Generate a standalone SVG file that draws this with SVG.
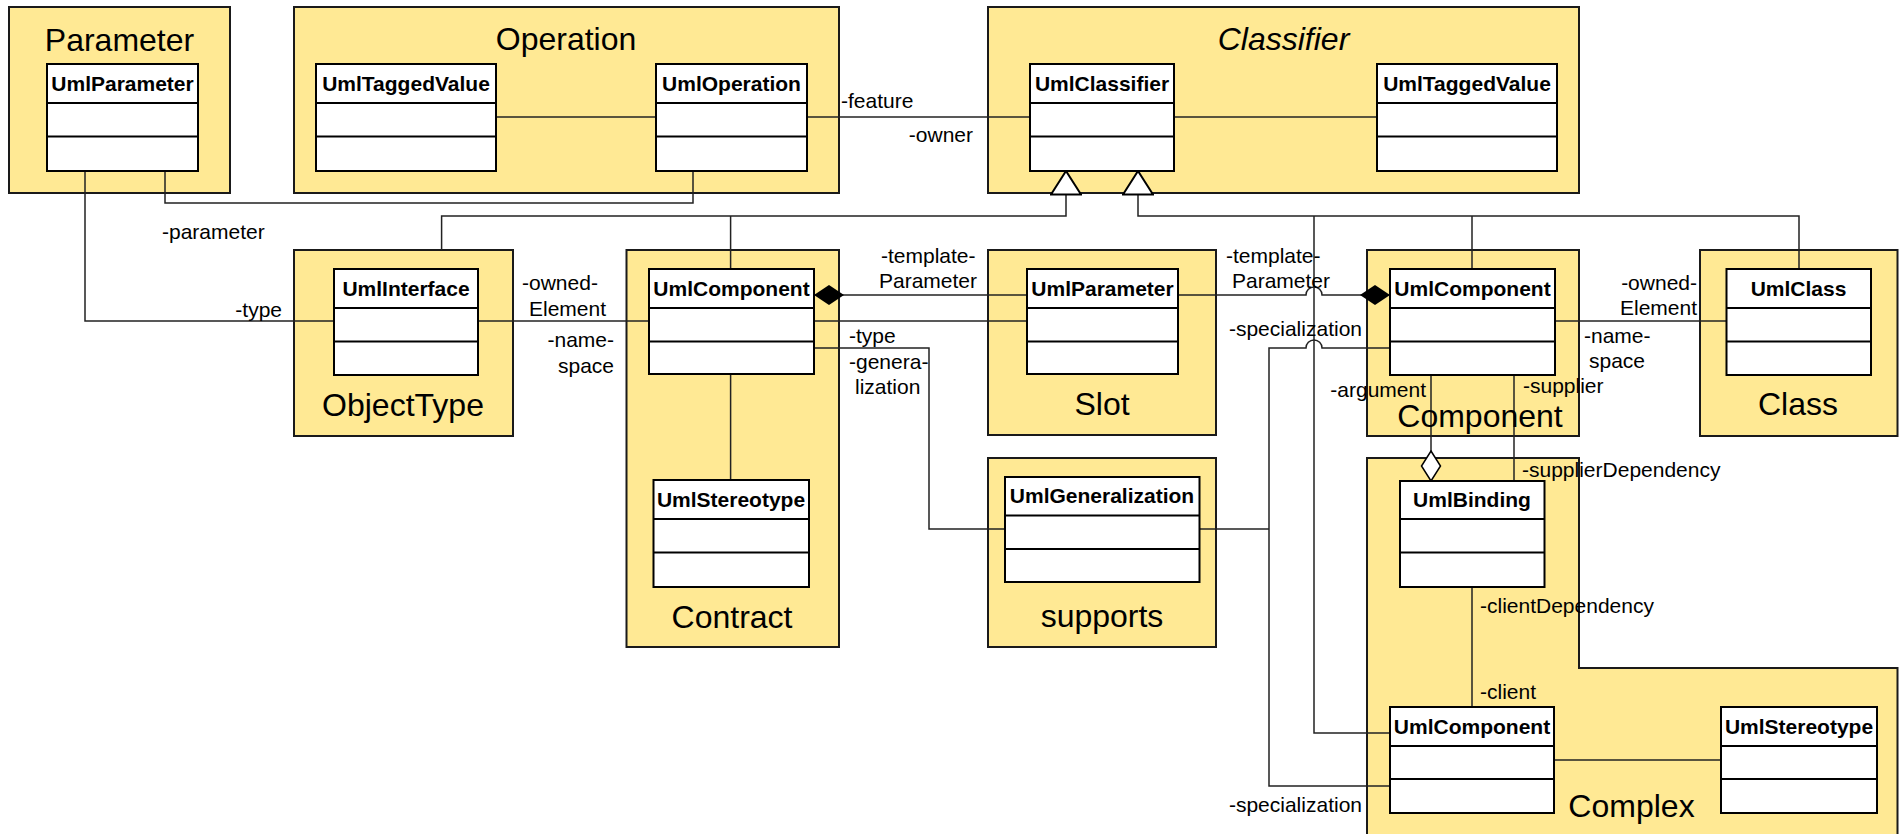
<svg xmlns="http://www.w3.org/2000/svg" width="1899" height="834" viewBox="0 0 1899 834">
<style>
.pkg{fill:#FFE994;stroke:#1a1a1a;stroke-width:2}
.box{fill:#fff;stroke:#000;stroke-width:2}
.dv{stroke:#000;stroke-width:2}
text{font-family:"Liberation Sans",Arial,Helvetica,sans-serif;fill:#000}
.hd{font-weight:bold;font-size:21px;text-anchor:middle}
.ttl{font-size:32px;text-anchor:middle}
.it{font-style:italic}
.lbl{font-size:21px}
.end{text-anchor:end}
.conn{fill:none;stroke:#222;stroke-width:1.5}
</style>
<defs>
<marker id="fdia" viewBox="0 0 30 20" refX="30" refY="10" markerWidth="30" markerHeight="20" markerUnits="userSpaceOnUse" orient="auto">
<path d="M0,10 L15,0 L30,10 L15,20 Z" fill="#000"/>
</marker>
<marker id="hdia" viewBox="-1 -1 32 22" refX="30" refY="10" markerWidth="32" markerHeight="22" markerUnits="userSpaceOnUse" orient="auto">
<path d="M0,10 L15,0.5 L30,10 L15,19.5 Z" fill="#fff" stroke="#000" stroke-width="1.5"/>
</marker>
<marker id="tri" viewBox="-1 -1 26 32" refX="23.5" refY="15" markerWidth="26" markerHeight="32" markerUnits="userSpaceOnUse" orient="auto">
<path d="M0,0 L23.5,15 L0,30 Z" fill="#fff" stroke="#000" stroke-width="2"/>
</marker>
</defs>

<!-- packages -->
<g id="pkg-parameter"><rect class="pkg" x="9" y="7" width="221" height="186"/><text class="ttl" x="119.5" y="51">Parameter</text></g>
<g id="pkg-operation"><rect class="pkg" x="294" y="7" width="545" height="186"/><text class="ttl" x="566" y="50">Operation</text></g>
<g id="pkg-classifier"><rect class="pkg" x="988" y="7" width="591" height="186"/><text class="ttl it" x="1283.5" y="50">Classifier</text></g>
<g id="pkg-objecttype"><rect class="pkg" x="294" y="250" width="219" height="186"/><text class="ttl" x="403" y="416">ObjectType</text></g>
<g id="pkg-contract"><rect class="pkg" x="626.5" y="250" width="212.5" height="397"/><text class="ttl" x="732" y="628">Contract</text></g>
<g id="pkg-slot"><rect class="pkg" x="988" y="250" width="228" height="185"/><text class="ttl" x="1102" y="415">Slot</text></g>
<g id="pkg-supports"><rect class="pkg" x="988" y="458" width="228" height="189"/><text class="ttl" x="1102" y="627">supports</text></g>
<g id="pkg-component"><rect class="pkg" x="1367" y="250" width="212" height="186"/></g>
<g id="pkg-class"><rect class="pkg" x="1700" y="250" width="197.5" height="186"/><text class="ttl" x="1798" y="415">Class</text></g>
<g id="pkg-complex"><path class="pkg" d="M1367,458 H1579 V668 H1897.5 V840 H1367 Z"/><text class="ttl" x="1631.5" y="817">Complex</text></g>

<!-- connectors -->
<g id="connectors">
<path class="conn" d="M496,117 H656"/>
<path class="conn" d="M807,117 H1030"/>
<path class="conn" d="M1174,117 H1377"/>
<path class="conn" d="M165,171 V203 H693 V171"/>
<path class="conn" d="M85,171 V321 H334"/>
<path class="conn" d="M441.6,250 V216 H1066 V171" marker-end="url(#tri)"/>
<path class="conn" d="M730.6,269 V216"/>
<path class="conn" d="M1799,269 V216 H1138 V171" marker-end="url(#tri)"/>
<path class="conn" d="M1314,216 V733 H1390"/>
<path class="conn" d="M1472,216 V269"/>
<path class="conn" d="M478,321 H649"/>
<path class="conn" d="M1027,295 H814" marker-end="url(#fdia)"/>
<path class="conn" d="M814,321 H1027"/>
<path class="conn" d="M814,348 H929 V529 H1005"/>
<path class="conn" d="M730.6,374 V480"/>
<path class="conn" d="M1178,295 H1306 A8,8 0 0 1 1322,295 H1390" marker-end="url(#fdia)"/>
<path class="conn" d="M1199.5,529 H1269"/>
<path class="conn" d="M1390,348 H1322 A8,8 0 0 0 1306,348 H1269 V786 H1390"/>
<path class="conn" d="M1555,321 H1726.5"/>
<path class="conn" d="M1431,375 V481" marker-end="url(#hdia)"/>
<path class="conn" d="M1514,375 V481"/>
<path class="conn" d="M1472,587 V707"/>
<path class="conn" d="M1554,760 H1721"/>
</g>

<!-- connector labels -->
<g id="labels">
<text class="lbl" x="841" y="108">-feature</text>
<text class="lbl end" x="973" y="142">-owner</text>
<text class="lbl" x="162" y="239">-parameter</text>
<text class="lbl end" x="282" y="317">-type</text>
<text class="lbl" x="522" y="290">-owned-</text>
<text class="lbl" x="529" y="316">Element</text>
<text class="lbl end" x="614" y="347">-name-</text>
<text class="lbl end" x="614" y="373">space</text>
<text class="lbl" x="881" y="263">-template-</text>
<text class="lbl" x="879" y="288">Parameter</text>
<text class="lbl" x="849" y="343">-type</text>
<text class="lbl" x="849" y="369">-genera-</text>
<text class="lbl" x="855" y="394">lization</text>
<text class="lbl" x="1226" y="263">-template-</text>
<text class="lbl" x="1232" y="288">Parameter</text>
<text class="lbl end" x="1362" y="336">-specialization</text>
<text class="lbl end" x="1697" y="290">-owned-</text>
<text class="lbl end" x="1697" y="315">Element</text>
<text class="lbl" x="1584" y="343">-name-</text>
<text class="lbl" x="1589" y="368">space</text>
<text class="lbl end" x="1426" y="397">-argument</text>
<text class="lbl" x="1523" y="393">-supplier</text>
<text class="lbl" x="1522" y="477">-supplierDependency</text>
<text class="lbl" x="1480" y="613">-clientDependency</text>
<text class="lbl" x="1480" y="699">-client</text>
<text class="lbl end" x="1362" y="812">-specialization</text>
</g>

<text class="ttl" x="1480" y="427">Component</text>

<!-- classes -->
<g id="c-param1"><rect class="box" x="47" y="64" width="151" height="107"/><path class="dv" d="M47,103 H198 M47,136.5 H198"/><text class="hd" x="122.5" y="91">UmlParameter</text></g>
<g id="c-tagged1"><rect class="box" x="316" y="64" width="180" height="107"/><path class="dv" d="M316,103 H496 M316,136.5 H496"/><text class="hd" x="406" y="91">UmlTaggedValue</text></g>
<g id="c-operation"><rect class="box" x="656" y="64" width="151" height="107"/><path class="dv" d="M656,103 H807 M656,136.5 H807"/><text class="hd" x="731.5" y="91">UmlOperation</text></g>
<g id="c-classifier"><rect class="box" x="1030" y="64" width="144" height="107"/><path class="dv" d="M1030,103 H1174 M1030,136.5 H1174"/><text class="hd" x="1102" y="91">UmlClassifier</text></g>
<g id="c-tagged2"><rect class="box" x="1377" y="64" width="180" height="107"/><path class="dv" d="M1377,103 H1557 M1377,136.5 H1557"/><text class="hd" x="1467" y="91">UmlTaggedValue</text></g>
<g id="c-interface"><rect class="box" x="334" y="269" width="144" height="106"/><path class="dv" d="M334,308 H478 M334,341.5 H478"/><text class="hd" x="406" y="296">UmlInterface</text></g>
<g id="c-comp-contract"><rect class="box" x="649" y="269" width="165" height="105"/><path class="dv" d="M649,308 H814 M649,341.5 H814"/><text class="hd" x="731.5" y="296">UmlComponent</text></g>
<g id="c-stereo-contract"><rect class="box" x="653.5" y="480" width="155.5" height="107"/><path class="dv" d="M653.5,519 H809 M653.5,552.5 H809"/><text class="hd" x="731" y="507">UmlStereotype</text></g>
<g id="c-param-slot"><rect class="box" x="1027" y="269" width="151" height="105"/><path class="dv" d="M1027,308 H1178 M1027,341.5 H1178"/><text class="hd" x="1102.5" y="296">UmlParameter</text></g>
<g id="c-generalization"><rect class="box" x="1005" y="477" width="194.5" height="105"/><path class="dv" d="M1005,515.5 H1199.5 M1005,549 H1199.5"/><text class="hd" x="1102" y="503">UmlGeneralization</text></g>
<g id="c-comp-component"><rect class="box" x="1390" y="269" width="165" height="106"/><path class="dv" d="M1390,308 H1555 M1390,341.5 H1555"/><text class="hd" x="1472.5" y="296">UmlComponent</text></g>
<g id="c-class"><rect class="box" x="1726.5" y="269" width="144.5" height="106"/><path class="dv" d="M1726.5,308 H1871 M1726.5,341.5 H1871"/><text class="hd" x="1798.5" y="296">UmlClass</text></g>
<g id="c-binding"><rect class="box" x="1400" y="481" width="144.5" height="106"/><path class="dv" d="M1400,519 H1544.5 M1400,552.5 H1544.5"/><text class="hd" x="1472" y="507">UmlBinding</text></g>
<g id="c-comp-complex"><rect class="box" x="1390" y="707" width="164" height="106"/><path class="dv" d="M1390,746 H1554 M1390,779 H1554"/><text class="hd" x="1472" y="734">UmlComponent</text></g>
<g id="c-stereo-complex"><rect class="box" x="1721" y="707" width="156" height="106"/><path class="dv" d="M1721,746 H1877 M1721,779 H1877"/><text class="hd" x="1799" y="734">UmlStereotype</text></g>
</svg>
